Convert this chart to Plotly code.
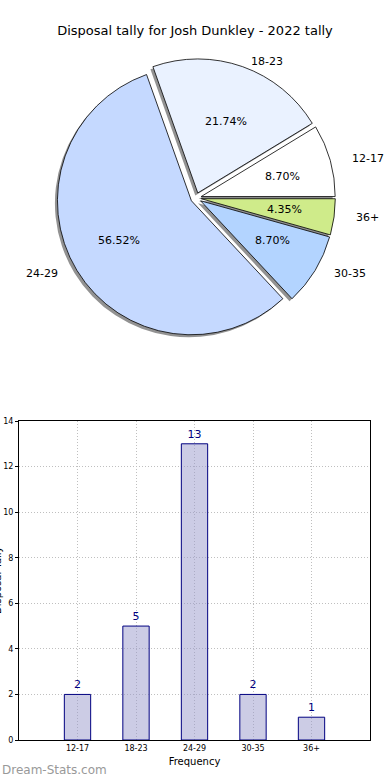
import math
import plotly.graph_objects as go

categories = ["12-17", "18-23", "24-29", "30-35", "36+"]
counts = [2, 5, 13, 2, 1]
pie_colors = ["#FFFFFF", "#EAF2FF", "#C5D9FF", "#B3D4FF", "#CFEB8A"]
y_ticks = [0, 2, 4, 6, 8, 10, 12, 14]

FONT = "DejaVu Sans"
W, H = 390, 780

# pie drawn clockwise from 3 o'clock with reversed order == counterclockwise order from 3 o'clock
pie_labels = categories[::-1]
pie_values = counts[::-1]
pie_cols = pie_colors[::-1]
explode = 0.04
pull = [explode] * len(categories)

cx, cy, r = 196, 198, 134
half = r * (1 + explode)
pie_dom_x = [(cx - half) / W, (cx + half) / W]
pie_dom_y = [1 - (cy + half) / H, 1 - (cy - half) / H]
dx_sh, dy_sh = 2.5 / W, 2.5 / H

# text placement radii (pixels, horizontal / vertical)
rx_txt, ry_txt = 140, 127

fig = go.Figure()

# shadow
fig.add_trace(go.Pie(
    labels=pie_labels, values=pie_values, sort=False, direction="clockwise",
    rotation=90, pull=pull, textinfo="none", hoverinfo="skip",
    marker=dict(colors=["rgba(110,110,110,0.75)"] * 5, line=dict(width=0)),
    domain=dict(x=[pie_dom_x[0] - dx_sh, pie_dom_x[1] - dx_sh],
                y=[pie_dom_y[0] - dy_sh, pie_dom_y[1] - dy_sh]),
    showlegend=False,
))

# main pie
fig.add_trace(go.Pie(
    labels=pie_labels, values=pie_values, sort=False, direction="clockwise",
    rotation=90, pull=pull, textinfo="none",
    marker=dict(colors=pie_cols, line=dict(color="black", width=0.8)),
    domain=dict(x=pie_dom_x, y=pie_dom_y),
    showlegend=False,
))

# labels / percentages computed from the data (matplotlib-style placement)
annotations = []
total = sum(counts)
cum = 0
for lab, v in zip(categories, counts):
    mid = 2 * math.pi * (cum + v / 2) / total
    cum += v
    c, s = math.cos(mid), math.sin(mid)
    ox, oy = explode * rx_txt * c, explode * ry_txt * s
    # percentage at 0.6 R
    px_ = cx + ox + 0.6 * rx_txt * c
    py_ = cy - oy - 0.6 * ry_txt * s
    annotations.append(dict(text=f"{100 * v / total:.2f}%", xref="paper", yref="paper",
                            x=px_ / W, y=1 - py_ / H, xanchor="center", yanchor="middle",
                            showarrow=False, font=dict(family=FONT, size=11, color="black")))
    # label at 1.1 R
    lx = cx + ox + 1.1 * rx_txt * c
    ly = cy - oy - 1.1 * ry_txt * s
    annotations.append(dict(text=lab, xref="paper", yref="paper",
                            x=lx / W, y=1 - ly / H,
                            xanchor="left" if c > 0 else "right", yanchor="middle",
                            showarrow=False, font=dict(family=FONT, size=11, color="black")))

# bar chart
fig.add_trace(go.Bar(
    x=categories, y=counts, width=0.45,
    marker=dict(color="rgba(153,153,204,0.5)", line=dict(color="#000080", width=1)),
    text=counts, textposition="outside", cliponaxis=False,
    textfont=dict(family=FONT, size=11, color="#000080"),
    showlegend=False, xaxis="x", yaxis="y",
))

GRID = dict(showgrid=True, gridcolor="#BFBFBF", griddash="1px,2px", gridwidth=1)

annotations.append(dict(text="Dream-Stats.com", xref="paper", yref="paper",
                        x=0, y=1 - 770 / H, xanchor="left", yanchor="middle",
                        showarrow=False,
                        font=dict(family=FONT, size=12, color="#999999")))
# y-axis title (mostly outside the left edge, as in the reference)
annotations.append(dict(text="Disposal Tally", xref="paper", yref="paper",
                        x=-3 / W, y=1 - 580 / H, xanchor="center", yanchor="middle",
                        textangle=-90, showarrow=False,
                        font=dict(family=FONT, size=10, color="black")))

fig.update_layout(
    width=W, height=H,
    margin=dict(l=0, r=0, t=0, b=0),
    paper_bgcolor="white", plot_bgcolor="white",
    font=dict(family=FONT, size=11, color="black"),
    title=dict(text="Disposal tally for Josh Dunkley - 2022 tally",
               x=0.5, xanchor="center", y=1 - 30 / H, yanchor="middle",
               font=dict(family=FONT, size=13, color="black")),
    xaxis=dict(domain=[19 / W, 370 / W], anchor="y",
               range=[-1, 5], type="category", **GRID,
               showline=True, mirror=True, linecolor="black", linewidth=1,
               ticks="", tickfont=dict(family=FONT, size=8),
               title=dict(text="Frequency", font=dict(family=FONT, size=10), standoff=6),
               automargin=False, zeroline=False),
    yaxis=dict(domain=[1 - 740 / H, 1 - 421 / H], anchor="x",
               range=[0, 14], tickvals=y_ticks, **GRID,
               showline=True, mirror=True, linecolor="black", linewidth=1,
               ticks="outside", ticklen=3, tickcolor="black",
               tickfont=dict(family=FONT, size=8),
               automargin=False, zeroline=False),
    annotations=annotations,
)

fig.write_html("out.html", config={"displayModeBar": False},
               post_script="document.body.style.margin='0';")
